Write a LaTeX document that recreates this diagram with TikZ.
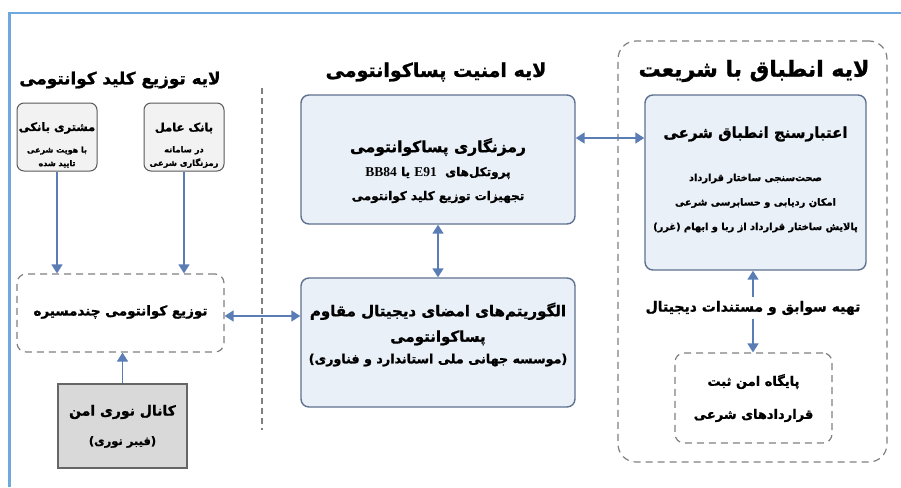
\documentclass[tikz,border=0pt]{standalone}
\usepackage{fontspec}
\usepackage{tikz}
\usetikzlibrary{arrows.meta}
\newfontfamily\farsi[Script=Arabic, BoldFeatures={FakeBold=1.2}]{DejaVu Sans}
\newfontfamily\lserif{Liberation Serif}
\TeXXeTstate=1
\newcommand{\fa}[1]{\beginR#1\endR}
\newcommand{\lat}[1]{\beginL{\lserif\bfseries\fontsize{13.5}{16}\selectfont #1}\endL{}}

\definecolor{framebl}{HTML}{6FA8DC}
\definecolor{arrowbl}{HTML}{5B7DB5}
\definecolor{pqfill}{HTML}{EAF0F8}
\definecolor{pqdraw}{HTML}{5E7290}
\definecolor{smfill}{HTML}{F2F2F2}
\definecolor{chfill}{HTML}{D9D9D9}
\definecolor{dashgray}{HTML}{808080}

\tikzset{
  pqbox/.style={draw=pqdraw, fill=pqfill, rounded corners=8pt, line width=1.4pt, inner sep=0pt},
  smallbox/.style={draw=black!65, fill=smfill, rounded corners=7pt, line width=1pt, inner sep=0pt,
    minimum width=80pt, minimum height=68pt},
  chanbox/.style={draw=black!60, fill=chfill, line width=1.2pt, inner sep=0pt},
  dashbox/.style={draw=dashgray, rounded corners=9pt, line width=1.2pt, dash pattern=on 7pt off 5pt, inner sep=0pt},
  flow/.style={draw=arrowbl, line width=1.6pt, -{Triangle[width=11pt,length=9pt]}},
  flowboth/.style={draw=arrowbl, line width=1.6pt, {Triangle[width=11pt,length=9pt]}-{Triangle[width=11pt,length=9pt]}},
  title/.style={font=\farsi\bfseries\fontsize{19}{22}\selectfont},
  head/.style={font=\farsi\bfseries\fontsize{15}{25}\selectfont, align=center},
  sub/.style={font=\farsi\bfseries\fontsize{9.8}{24.5}\selectfont, align=center},
}

\begin{document}
\begin{tikzpicture}[x=1pt, y=-1pt]
  \useasboundingbox (0,0) rectangle (901,487);
  % outer frame
  \draw[framebl, line width=2.2pt] (9.5,487) -- (9.5,13) -- (901,13);

  % quantum key distribution layer
  \node[title, font=\farsi\bfseries\fontsize{16.8}{20}\selectfont] (tdist) at (120,80) {\fa{لایه توزیع کلید کوانتومی}};
  \node[smallbox] (cust) at (57,137) {};
  \node[smallbox] (bank) at (184,137) {};
  \node[font=\farsi\bfseries\fontsize{11.5}{13}\selectfont] (custh) at (57,128) {\fa{مشتری بانکی}};
  \node[font=\farsi\bfseries\fontsize{8}{13.5}\selectfont, align=center] (custs) at (57,157) {\fa{با هویت شرعی}\\\fa{تایید شده}};
  \node[font=\farsi\bfseries\fontsize{11.5}{13}\selectfont] (bankh) at (184,128) {\fa{بانک عامل}};
  \node[font=\farsi\bfseries\fontsize{8.3}{13.5}\selectfont, align=center] (banks) at (184,157) {\fa{در سامانه}\\\fa{رمزنگاری شرعی}};
  \node[dashbox, minimum width=207pt, minimum height=78pt] (multi) at (120.5,313) {};
  \node[head, font=\farsi\bfseries\fontsize{13.5}{16}\selectfont] (multit) at (120.5,312) {\fa{توزیع کوانتومی چندمسیره}};
  \node[chanbox, minimum width=129pt, minimum height=84pt] (fiber) at (122.5,426) {};
  \node[head, font=\farsi\bfseries\fontsize{14}{16}\selectfont] (fibert) at (122.5,412) {\fa{کانال نوری امن}};
  \node[font=\farsi\bfseries\fontsize{11.5}{13}\selectfont] (fibers) at (122.5,442) {\fa{(فیبر نوری)}};
  \draw[dashgray, line width=1.2pt, dash pattern=on 6pt off 4pt] (262,88) -- (262,430);

  % post-quantum security layer
  \node[title] (tsec) at (436,72) {\fa{لایه امنیت پساکوانتومی}};
  \node[pqbox, minimum width=274pt, minimum height=129pt] (pqc) at (438,159.5) {};
  \node[head, font=\farsi\bfseries\fontsize{15.5}{18}\selectfont] (pqch) at (438,147) {\fa{رمزنگاری پساکوانتومی}};
  \node[sub, font=\farsi\bfseries\fontsize{12}{24}\selectfont] (pqcs) at (438,185) {\fa{پروتکل^^^^200cهای \ \lat{E91} یا \lat{BB84}}\\\fa{تجهیزات توزیع کلید کوانتومی}};
  \node[pqbox, minimum width=274pt, minimum height=129pt] (sig) at (438,342.5) {};
  \node[head, font=\farsi\bfseries\fontsize{15}{25.5}\selectfont] (sigh) at (438,324) {\fa{الگوریتم^^^^200cهای امضای دیجیتال مقاوم}\\\fa{پساکوانتومی}};
  \node[font=\farsi\bfseries\fontsize{12.7}{15}\selectfont] (sigs) at (438,360) {\fa{(موسسه جهانی ملی استاندارد و فناوری)}};

  % sharia compliance layer
  \node[dashbox, rounded corners=18pt, minimum width=269pt, minimum height=421pt] (comp) at (752.5,251.5) {};
  \node[title, font=\farsi\bfseries\fontsize{22}{25}\selectfont] (tcomp) at (754,71) {\fa{لایه انطباق با شریعت}};
  \node[pqbox, minimum width=221pt, minimum height=175pt] (shar) at (755.5,182.5) {};
  \node[head] (sharh) at (755.5,134) {\fa{اعتبارسنج انطباق شرعی}};
  \node[sub] (shars) at (755.5,203) {\fa{صحت^^^^200cسنجی ساختار قرارداد}\\\fa{امکان ردیابی و حسابرسی شرعی}\\\fa{پالایش ساختار قرارداد از ربا و ابهام (غرر)}};
  \node[head, font=\farsi\bfseries\fontsize{14}{16}\selectfont] (docs) at (753,308) {\fa{تهیه سوابق و مستندات دیجیتال}};
  \node[dashbox, minimum width=157pt, minimum height=90pt] (regdb) at (753.5,398) {};
  \node[head, font=\farsi\bfseries\fontsize{13}{33}\selectfont] (regdbt) at (753.5,398) {\fa{پایگاه امن ثبت}\\\fa{قراردادهای شرعی}};

  % connectors
  \coordinate (pqlink) at (610,138);
  \draw[flow] (cust) -- (cust |- multi.north);
  \draw[flow] (bank) -- (bank |- multi.north);
  \draw[flow] (fiber) -- (fiber |- multi.south);
  \draw[flowboth] ([yshift=-3pt]multi.east) -- ([yshift=-3pt]multi.east -| sig.west);
  \draw[flowboth] (pqc) -- (sig);
  \draw[flowboth] (pqc.east |- pqlink) -- (shar.west |- pqlink);
  \draw[flow] (docs.north) -- (docs.north |- shar.south);
  \draw[flow] (docs.south) -- (docs.south |- regdb.north);
\end{tikzpicture}
\end{document}
